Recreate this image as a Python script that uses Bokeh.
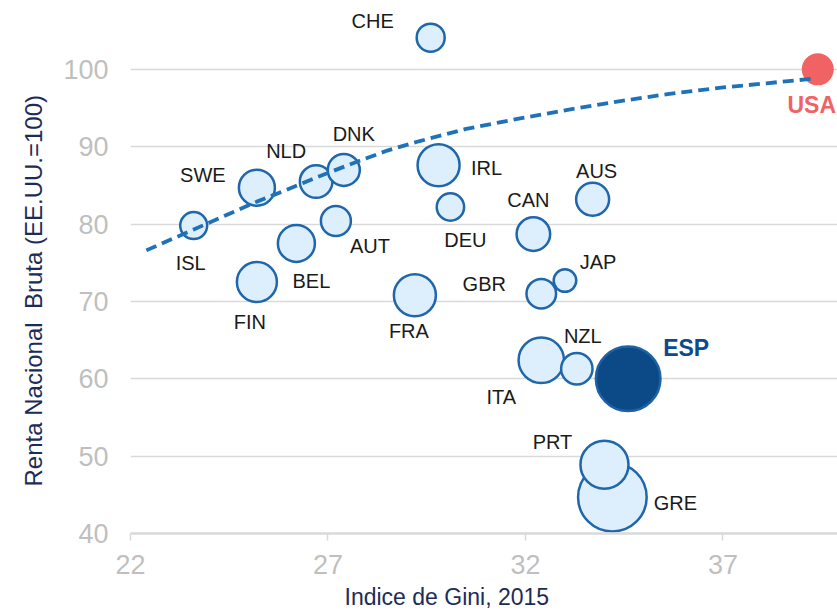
from bokeh.plotting import figure
from bokeh.models import ColumnDataSource, FixedTicker, Range1d, Title
from bokeh.core.properties import value
from bokeh.embed import file_html
from bokeh.resources import INLINE

# ---------------- data ----------------
paises = ["CHE", "ISL", "SWE", "NLD", "DNK", "AUT", "BEL", "FIN", "FRA", "IRL",
          "DEU", "CAN", "AUS", "GBR", "JAP", "ITA", "NZL", "ESP", "GRE", "PRT", "USA"]
gini = [29.6, 23.6, 25.2, 26.7, 27.4, 27.2, 26.2, 25.2, 29.2, 29.8,
        30.1, 32.2, 33.7, 32.4, 33.0, 32.4, 33.3, 34.6, 34.2, 34.0, 39.4]
renta = [104.1, 79.8, 84.7, 85.5, 87.0, 80.4, 77.5, 72.5, 70.8, 87.6,
         82.2, 78.7, 83.2, 71.0, 72.7, 62.4, 61.3, 60.0, 44.7, 48.9, 100.0]
peso = [15.0, 14.5, 19.0, 17.3, 17.0, 16.0, 19.5, 21.0, 22.0, 22.0,
        14.7, 17.8, 17.5, 15.8, 12.3, 23.7, 16.7, 33.3, 35.3, 25.0, 17.0]

tendencia_x = [22.4, 23.6, 24.4, 25.2, 25.9, 26.6, 27.7, 28.5, 29.3, 30.5,
               31.9, 33.1, 34.4, 35.6, 36.9, 38.1, 39.3]
tendencia_y = [76.6, 79.3, 81.1, 82.9, 84.3, 85.8, 88.0, 89.5, 90.7, 92.3,
               93.7, 94.8, 95.9, 96.8, 97.6, 98.2, 98.8]

x_ticks = [22, 27, 32, 37]
y_ticks = [40, 50, 60, 70, 80, 90, 100]
x_titulo = "Indice de Gini, 2015"
y_titulo = "Renta Nacional\u00a0 Bruta (EE.UU.=100)"

# ---------------- styles ----------------
FONT = "Liberation Sans"
label_offsets = {
    "CHE": (-58, -17), "ISL": (-3, 37), "SWE": (-54, -13), "NLD": (-30, -31),
    "DNK": (10, -36), "AUT": (34, 25), "BEL": (15, 38), "FIN": (-7, 40),
    "FRA": (-6, 36), "IRL": (48, 3), "DEU": (15, 33), "CAN": (-5, -34),
    "AUS": (4, -28), "GBR": (-57, -10), "JAP": (33, -19), "ITA": (-40, 37),
    "NZL": (6, -33), "ESP": (58, -31), "GRE": (63, 6), "PRT": (-52, -23),
    "USA": (-6, 36),
}
fill_map = {"ESP": "#0b4a87", "USA": "#f06263"}
line_map = {"ESP": "#1d62a6", "USA": None}
text_color_map = {"ESP": "#0d4a8a", "USA": "#f06263"}

fills = [fill_map.get(c, "#ddeefc") for c in paises]
lines = [line_map.get(c, "#1f66ab") for c in paises]
sizes = [2 * v - 2 for v in peso]
tcolors = [text_color_map.get(c, "#1a1a1a") for c in paises]
tstyles = ["bold" if c in ("ESP", "USA") else "normal" for c in paises]
tsizes = ["23px" if c in ("ESP", "USA") else "20px" for c in paises]
xoff = [label_offsets[c][0] for c in paises]
yoff = [label_offsets[c][1] for c in paises]

src = ColumnDataSource(dict(x=gini, y=renta, pais=paises, fill=fills, line=lines,
                            size=sizes, tcolor=tcolors, tstyle=tstyles, tsize=tsizes,
                            xoff=xoff, yoff=yoff))

p = figure(width=837, height=615, output_backend="svg", toolbar_location=None,
           x_range=Range1d(22, 39.9), y_range=Range1d(40, 108.9),
           min_border_left=130, min_border_right=0, min_border_top=0,
           min_border_bottom=81)
p.outline_line_color = None
p.background_fill_color = "white"
p.border_fill_color = "white"

# grid
p.xgrid.grid_line_color = None
p.ygrid.ticker = FixedTicker(ticks=[50, 60, 70, 80, 90, 100])
p.ygrid.grid_line_color = "#d9d9d9"
p.ygrid.grid_line_width = 1.5

# x axis
xa = p.xaxis[0]
xa.ticker = FixedTicker(ticks=x_ticks)
xa.axis_line_color = "#d9d9d9"
xa.axis_line_width = 2.5
xa.major_tick_line_color = "#d9d9d9"
xa.major_tick_line_width = 1.5
xa.major_tick_out = 7
xa.major_tick_in = 0
xa.minor_tick_line_color = None
xa.major_label_standoff = 14
xa.major_label_text_font = FONT
xa.major_label_text_font_size = "27px"
xa.major_label_text_color = "#bfbfbf"

# y axis
ya = p.yaxis[0]
ya.ticker = FixedTicker(ticks=y_ticks)
ya.axis_line_color = None
ya.major_tick_line_color = None
ya.minor_tick_line_color = None
ya.major_tick_out = 0
ya.major_tick_in = 0
ya.major_label_standoff = 22
ya.major_label_text_font = FONT
ya.major_label_text_font_size = "27px"
ya.major_label_text_color = "#bfbfbf"

# axis titles (off-centre, as in the original)
p.add_layout(Title(text=x_titulo, align="left", offset=214, standoff=11,
                   text_font=FONT, text_font_size="23px",
                   text_font_style="normal", text_color="#1c2c58"), "below")
p.add_layout(Title(text=y_titulo, align="left", offset=47, standoff=28,
                   text_font=FONT, text_font_size="24px",
                   text_font_style="normal", text_color="#1c2c58"), "left")

# bubbles
p.scatter(x="x", y="y", size="size", source=src, fill_color="fill",
          line_color="line", line_width=2.5)

# trend line
p.line(tendencia_x, tendencia_y, line_color="#1f72b8", line_width=3.8,
       line_dash="11 6")

# labels
p.text(x="x", y="y", text="pais", source=src, x_offset="xoff", y_offset="yoff",
       text_align="center", text_baseline="middle", text_font=value(FONT),
       text_font_size="tsize", text_color="tcolor", text_font_style="tstyle")

open("out.html", "w").write(file_html(p, INLINE))
